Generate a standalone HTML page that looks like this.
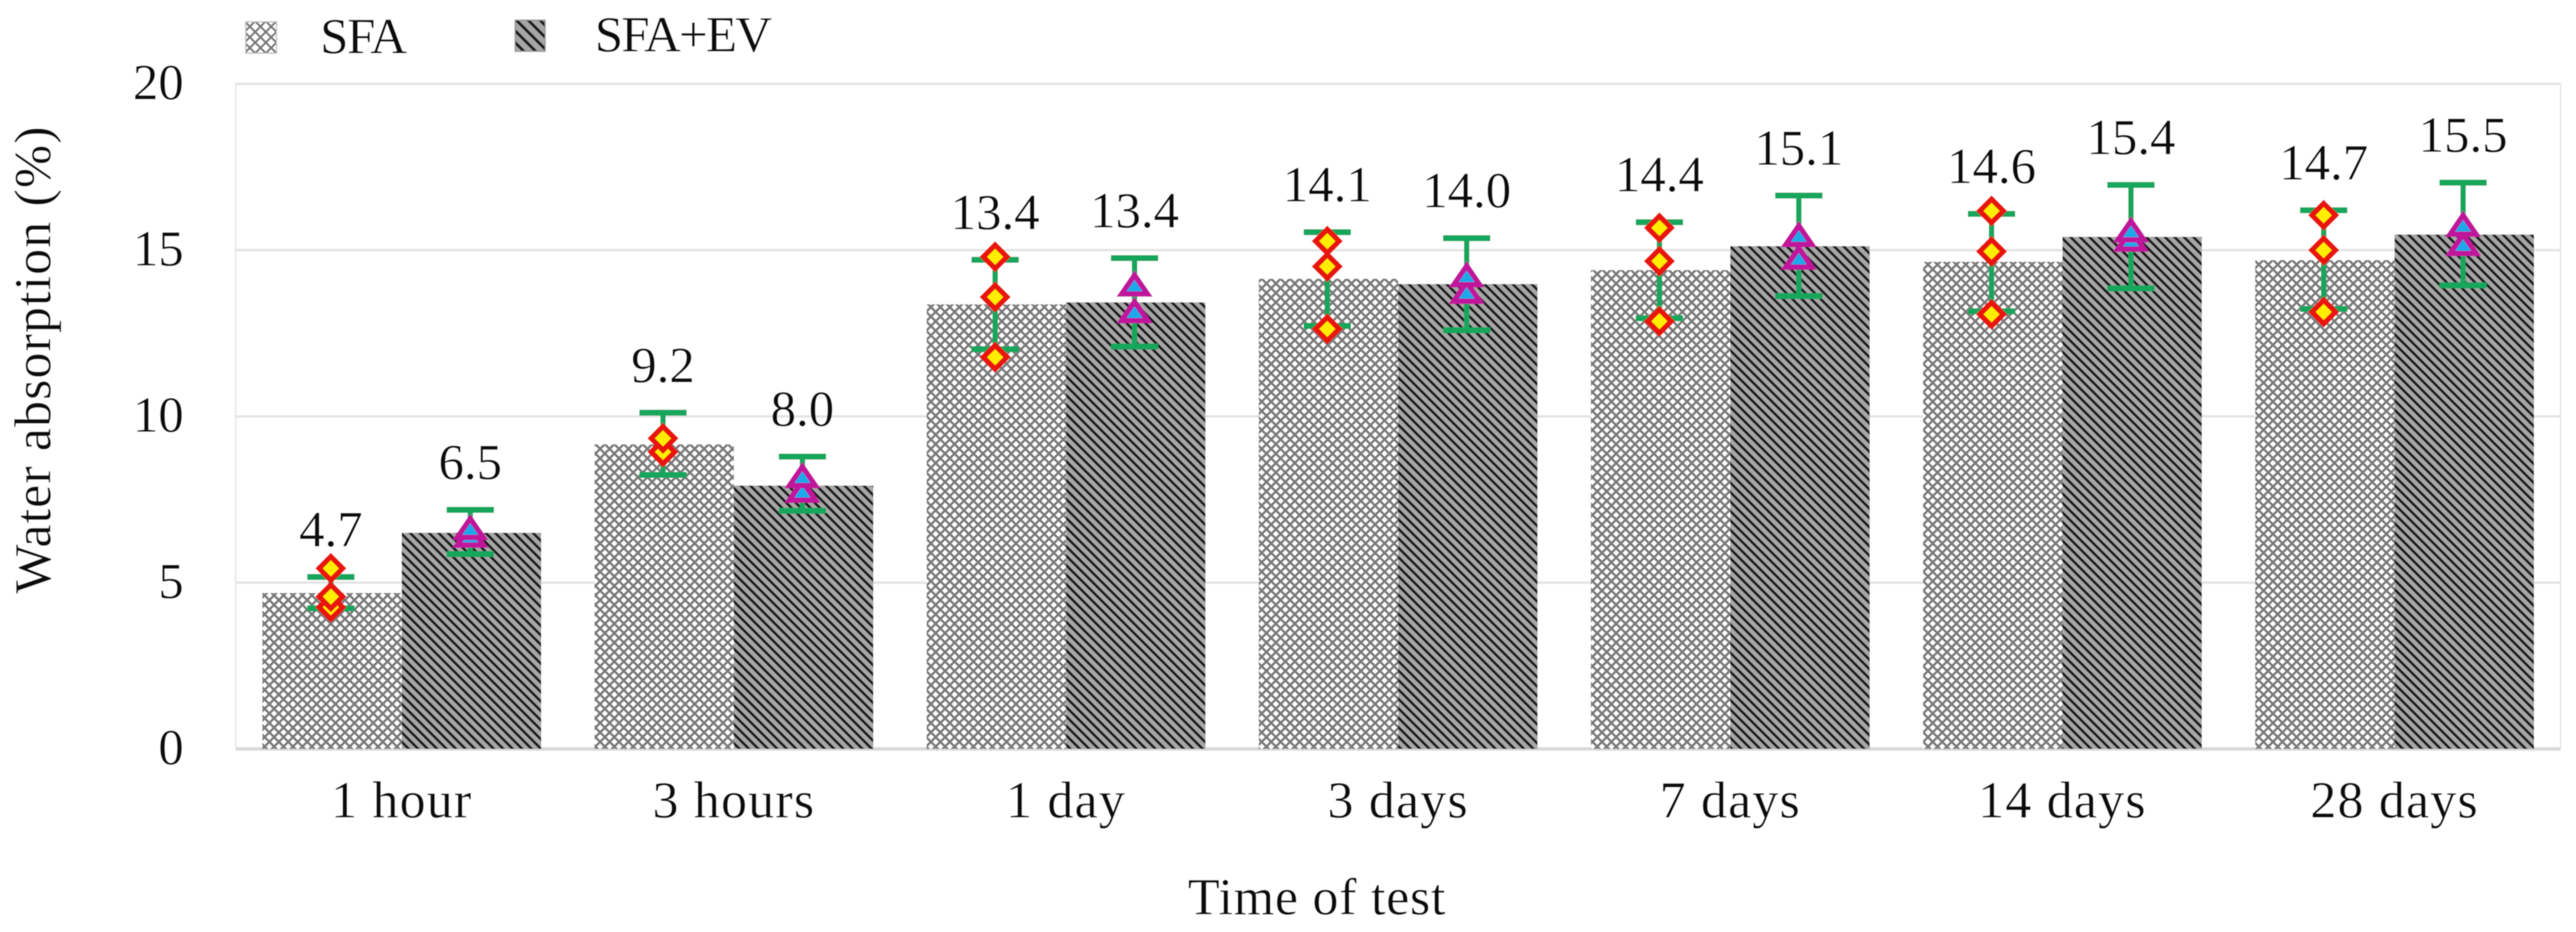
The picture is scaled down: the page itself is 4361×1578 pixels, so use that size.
<!DOCTYPE html>
<html lang="en">
<head>
<meta charset="utf-8">
<title>Water absorption chart</title>
<style>
html,body{margin:0;padding:0;background:#fff;}
body{width:4361px;height:1578px;overflow:hidden;}
svg{display:block;}
text{font-family:"Liberation Serif",serif;fill:#111;}
</style>
</head>
<body>
<svg id="chart" xmlns="http://www.w3.org/2000/svg" width="4361" height="1578" viewBox="0 0 4361 1578">
  <defs>
    <pattern id="hatch-cross" patternUnits="userSpaceOnUse" width="16" height="16">
      <rect width="16" height="16" fill="#fff"/>
      <path d="M-2 -2L18 18M-2 18L18 -2M-2 2L2 -2M14 18L18 14M-2 14L2 18M14 -2L18 2" stroke="#7c7c7c" stroke-width="4.2" fill="none"/>
    </pattern>
    <pattern id="hatch-diag" patternUnits="userSpaceOnUse" width="16" height="16">
      <rect width="16" height="16" fill="#a6a6a6"/>
      <path d="M-4 -4L20 20M-12 4L4 20M12 -4L28 12" stroke="#1d1d1d" stroke-width="4.6" fill="none"/>
    </pattern>
    <pattern id="hatch-cross-legend" patternUnits="userSpaceOnUse" width="18" height="18">
      <rect width="18" height="18" fill="#fff"/>
      <path d="M-2 -2L20 20M-2 20L20 -2M-2 2L2 -2M16 20L20 16M-2 16L2 20M16 -2L20 2" stroke="#7a7a7a" stroke-width="3.6" fill="none"/>
    </pattern>
    <pattern id="hatch-diag-legend" patternUnits="userSpaceOnUse" width="20" height="20">
      <rect width="20" height="20" fill="#a6a6a6"/>
      <path d="M-4 -4L24 24M-14 6L6 26M14 -6L34 14" stroke="#1d1d1d" stroke-width="5" fill="none"/>
    </pattern>
    <filter id="soft" x="0" y="0" width="4361" height="1578" filterUnits="userSpaceOnUse" primitiveUnits="userSpaceOnUse">
      <feGaussianBlur stdDeviation="0.9"/>
    </filter>
  </defs>
  <g id="root" filter="url(#soft)">
    <rect x="0" y="0" width="4361" height="1578" fill="#fff"/>
    <g id="grid"></g>
    <g id="bars"></g>
    <g id="errors"></g>
    <g id="markers"></g>
    <g id="labels"></g>
    <g id="yticks"></g>
    <g id="xticks"></g>

    <g>
      <rect x="416" y="37" width="52" height="53" fill="url(#hatch-cross-legend)" stroke="#bbb" stroke-width="2"/>
      <text x="542" y="90" font-size="86" textLength="147">SFA</text>
      <rect x="872" y="34" width="51" height="53" fill="url(#hatch-diag-legend)" stroke="#999" stroke-width="2"/>
      <text x="1007" y="87" font-size="86" textLength="300">SFA+EV</text>
    </g>

    <text transform="translate(85,1005) rotate(-90)" x="0" y="0" font-size="88" textLength="791">Water absorption (%)</text>
    <text x="2011" y="1548" font-size="88" textLength="436">Time of test</text>
  </g>
</svg>
<script>
const categories = ["1 hour", "3 hours", "1 day", "3 days", "7 days", "14 days", "28 days"];
const yTicks = [0, 5, 10, 15, 20];

const sfaValues = [4.69, 9.16, 13.37, 14.14, 14.4, 14.65, 14.7];
const evValues = [6.5, 7.92, 13.43, 13.98, 15.12, 15.4, 15.47];

const sfaLabels = ["4.7", "9.2", "13.4", "14.1", "14.4", "14.6", "14.7"];
const evLabels = ["6.5", "8.0", "13.4", "14.0", "15.1", "15.4", "15.5"];

const sfaErrHigh = [5.17, 10.11, 14.71, 15.54, 15.84, 16.09, 16.2];
const sfaErrLow = [4.23, 8.24, 12.02, 12.72, 12.95, 13.16, 13.23];
const evErrHigh = [7.19, 8.79, 14.76, 15.36, 16.64, 16.96, 17.03];
const evErrLow = [5.86, 7.16, 12.1, 12.59, 13.62, 13.85, 13.94];

const sfaReplicates = [
  [5.43, 4.58, 4.26],
  [9.34, 8.93],
  [14.8, 13.59, 11.78],
  [15.27, 14.51, 12.63],
  [15.67, 14.67, 12.86],
  [16.18, 14.96, 13.07],
  [16.05, 15.0, 13.14]
];
const evReplicates = [
  [6.68, 6.45],
  [8.24, 7.8],
  [14.0, 13.2],
  [14.28, 13.78],
  [15.49, 14.81],
  [15.63, 15.35],
  [15.8, 15.22]
];

const NS = "http://www.w3.org/2000/svg";
const plotLeft = 399, plotRight = 4335, plotTop = 142, plotBottom = 1268;
const yMax = 20;
const bandWidth = (plotRight - plotLeft) / categories.length;
const barWidth = 236;

function yScale(v) { return plotBottom - (v / yMax) * (plotBottom - plotTop); }
function xCenter(i) { return plotLeft + bandWidth * (i + 0.5); }

function make(tag, parentId, attrs) {
  const node = document.createElementNS(NS, tag);
  for (const k in attrs) node.setAttribute(k, attrs[k]);
  document.getElementById(parentId).appendChild(node);
  return node;
}

/* gridlines and y tick labels */
yTicks.forEach(function (t) {
  const line = make("line", "grid", {
    x1: plotLeft, x2: plotRight, y1: yScale(t), y2: yScale(t),
    stroke: t === 0 ? "#d9d9d9" : "#e4e4e4", "stroke-width": t === 0 ? 6 : 4
  });
  
  
  const label = make("text", "yticks", {
    x: 311, y: yScale(t) + 26, "text-anchor": "end", "font-size": 86
  });
  label.textContent = String(t);
  
  
});

const leftBorder = make("line", "grid", { x1: plotLeft, x2: plotLeft, y1: plotTop, y2: plotBottom, stroke: "#e6e6e6", "stroke-width": 2.5 });


const rightBorder = make("line", "grid", { x1: plotRight, x2: plotRight, y1: plotTop, y2: plotBottom, stroke: "#e6e6e6", "stroke-width": 2.5 });



function drawBar(i, value, isEv) {
  const c = xCenter(i);
  const x = isEv ? c : c - barWidth;
  const bar = make("rect", "bars", {
    x: x, y: yScale(value), width: barWidth, height: yScale(0) - yScale(value),
    fill: isEv ? "url(#hatch-diag)" : "url(#hatch-cross)"
  });
  
  
}

function drawError(cx, hi, lo) {
  const capHalf = 40;
  const green = "#12a65c";
  const stem = make("line", "errors", { x1: cx, x2: cx, y1: yScale(hi), y2: yScale(lo), stroke: green, "stroke-width": 9 });
  
  
  const capHi = make("line", "errors", { x1: cx - capHalf, x2: cx + capHalf, y1: yScale(hi), y2: yScale(hi), stroke: green, "stroke-width": 10 });
  
  
  const capLo = make("line", "errors", { x1: cx - capHalf, x2: cx + capHalf, y1: yScale(lo), y2: yScale(lo), stroke: green, "stroke-width": 10 });
  
  
}

function drawDiamond(cx, v) {
  const y = yScale(v), r = 20;
  const d = make("polygon", "markers", {
    points: [cx, y - r, cx + r, y, cx, y + r, cx - r, y].join(","),
    fill: "#ffee00", stroke: "#e8170f", "stroke-width": 9, "stroke-linejoin": "miter"
  });
  
  
}

function drawTriangle(cx, v) {
  const y = yScale(v);
  const t = make("polygon", "markers", {
    points: [cx, y - 14, cx + 22, y + 18, cx - 22, y + 18].join(","),
    fill: "#1ea8ea", stroke: "#c0189c", "stroke-width": 9, "stroke-linejoin": "miter"
  });
  
  
}

function drawValueLabel(cx, hi, text, nameValue) {
  const label = make("text", "labels", {
    x: cx, y: yScale(hi) - 52, "text-anchor": "middle", "font-size": 86
  });
  label.textContent = text;
  
  
}

categories.forEach(function (cat, i) {
  const c = xCenter(i);
  const sfaX = c - barWidth / 2 - 2;
  const evX = c + barWidth / 2 - 2;

  drawBar(i, sfaValues[i], false);
  drawBar(i, evValues[i], true);

  drawError(sfaX, sfaErrHigh[i], sfaErrLow[i]);
  drawError(evX, evErrHigh[i], evErrLow[i]);

  sfaReplicates[i].slice().reverse().forEach(function (v) { drawDiamond(sfaX, v); });
  evReplicates[i].slice().reverse().forEach(function (v) { drawTriangle(evX, v); });

  drawValueLabel(sfaX, sfaErrHigh[i], sfaLabels[i], 'value-label-sfa');
  drawValueLabel(evX, evErrHigh[i], evLabels[i], 'value-label-sfa-ev');

  const tick = make("text", "xticks", {
    x: c, y: 1384, "text-anchor": "middle", "font-size": 88, "letter-spacing": 2
  });
  tick.textContent = cat;
  
  
});
</script>
</body>
</html>
